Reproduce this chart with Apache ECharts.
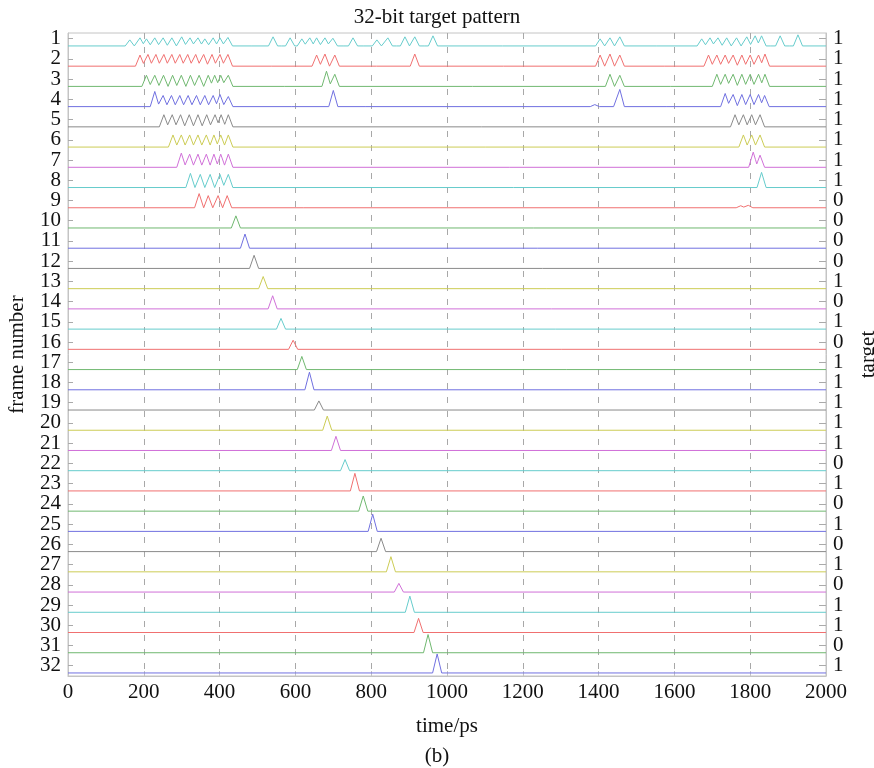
<!DOCTYPE html>
<html>
<head>
<meta charset="utf-8">
<script src="https://cdn.jsdelivr.net/npm/echarts@6/dist/echarts.min.js"></script>
<style>html,body{margin:0;padding:0;background:#fff}#c{width:874px;height:768px}</style>
</head>
<body>
<div id="c"></div>
<script>
// ---- data ----
const frameNumbers = Array.from({length: 32}, (_, i) => i + 1);
const targetBits = [1,1,1,1,1,1,1,1,0,0,0,0,1,0,1,0,1,1,1,1,1,0,1,0,1,0,1,0,1,1,0,1];
const timeTicks = [0,200,400,600,800,1000,1200,1400,1600,1800,2000];

// peaks per frame: [time (ps), height (frame units)]
const frame01 = [[163,0.3],[190,0.4],[207,0.35],[229,0.4],[251,0.4],[274,0.4],[300,0.45],[322,0.4],[343,0.4],[361,0.35],[383,0.4],[401,0.4],[422,0.42],[541,0.45],[586,0.4],[617,0.35],[638,0.4],[656,0.4],[678,0.4],[699,0.38],[752,0.4],[815,0.3],[844,0.4],[889,0.45],[915,0.45],[963,0.5],[1404,0.35],[1430,0.4],[1456,0.45],[1672,0.35],[1694,0.4],[1715,0.4],[1738,0.4],[1764,0.4],[1791,0.45],[1813,0.5],[1830,0.5],[1879,0.5],[1926,0.55]];
const frame02 = [[190,0.55],[211,0.58],[232,0.58],[253,0.58],[274,0.58],[295,0.58],[316,0.58],[337,0.58],[358,0.58],[380,0.58],[401,0.58],[422,0.58],[656,0.55],[678,0.6],[704,0.55],[915,0.6],[1404,0.55],[1430,0.6],[1456,0.55],[1690,0.55],[1712,0.55],[1734,0.55],[1755,0.55],[1778,0.55],[1800,0.55],[1822,0.55],[1839,0.6]];
const frame03 = [[207,0.55],[229,0.55],[252,0.55],[276,0.55],[299,0.55],[323,0.55],[346,0.55],[370,0.55],[387,0.55],[403,0.55],[423,0.55],[682,0.75],[704,0.6],[1430,0.6],[1456,0.55],[1712,0.6],[1734,0.6],[1755,0.6],[1778,0.6],[1800,0.6],[1822,0.6],[1839,0.6]];
const frame04 = [[229,0.75],[251,0.55],[273,0.55],[295,0.55],[317,0.55],[339,0.55],[361,0.55],[383,0.55],[401,0.6],[423,0.5],[700,0.8],[1390,0.1],[1456,0.85],[1734,0.65],[1755,0.6],[1778,0.6],[1800,0.6],[1822,0.6],[1838,0.55]];
const frame05 = [[253,0.6],[275,0.6],[297,0.6],[320,0.6],[343,0.6],[366,0.6],[388,0.6],[404,0.6],[423,0.6],[1760,0.6],[1782,0.6],[1804,0.6],[1826,0.6]];
const frame06 = [[277,0.6],[299,0.6],[321,0.6],[343,0.6],[365,0.6],[385,0.6],[403,0.6],[423,0.6],[1782,0.6],[1804,0.6],[1826,0.6]];
const frame07 = [[299,0.7],[321,0.65],[343,0.65],[365,0.65],[385,0.65],[403,0.65],[423,0.65],[1808,0.75],[1826,0.6]];
const frame08 = [[323,0.7],[349,0.65],[375,0.65],[401,0.65],[423,0.65],[1830,0.75]];
const frame09 = [[346,0.7],[370,0.6],[396,0.6],[420,0.6],[1775,0.1],[1795,0.12]];
const singlePeakTimes   = [443,467,491,515,540,562,594,617,637,662,684,707,731,757,779,804,826,852,873,902,925,950,974];
const singlePeakHeights = [0.6,0.7,0.65,0.6,0.65,0.53,0.45,0.65,0.87,0.45,0.7,0.7,0.55,0.87,0.75,0.85,0.66,0.75,0.43,0.8,0.7,0.9,0.94];

const multiFrames = [frame01,frame02,frame03,frame04,frame05,frame06,frame07,frame08,frame09];
const framePeaks = multiFrames.concat(singlePeakTimes.map((t, i) => [[t, singlePeakHeights[i]]]));
const oddFrames = frameNumbers.filter(n => n % 2 === 1);
const evenFrames = frameNumbers.filter(n => n % 2 === 0);

// ---- styles ----
const palette = ['#66cccc','#f07070','#70b870','#7070e0','#8a8a8a','#cccc55','#d070d8'];
const HALF = 12;        // half width of a peak, ps
const BASE = 0.36;      // baseline offset below the frame tick
const FONT = 'Liberation Serif';

function envelope(peaks) {
  const xs = [0, 2000];
  peaks.forEach(([t]) => { xs.push(t - HALF, t, t + HALF); });
  for (let i = 0; i + 1 < peaks.length; i++) {
    const [t1, h1] = peaks[i], [t2, h2] = peaks[i + 1];
    const a = h1 / HALF, b = h2 / HALF;
    const x = (h1 - h2 + a * t1 + b * t2) / (a + b);
    if (x > t1 && x < t2) xs.push(x);
  }
  const uniq = Array.from(new Set(xs.filter(x => x >= 0 && x <= 2000))).sort((p, q) => p - q);
  return uniq.map(x => {
    let v = 0;
    peaks.forEach(([t, h]) => { v = Math.max(v, h * (1 - Math.abs(x - t) / HALF)); });
    return [x, v];
  });
}

const series = framePeaks.map((peaks, i) => ({
  type: 'line',
  yAxisIndex: 0,
  showSymbol: false,
  silent: true,
  animation: false,
  lineStyle: { width: 1, color: palette[i % palette.length] },
  data: envelope(peaks).map(([x, v]) => [x, frameNumbers[i] + BASE - v])
}));

const axisGray = '#c4c4c4';
const nameStyle = { color: '#111', fontFamily: FONT, fontSize: 21 };
function rowAxis(side, values, withName, tickLen, formatter) {
  const ax = {
    type: 'value', inverse: true, min: 0.72, max: 32.51, position: side, offset: 0,
    axisLine: { show: withName, lineStyle: { color: axisGray } },
    axisTick: { show: true, inside: true, length: tickLen, customValues: values, lineStyle: { color: '#aaa' } },
    axisLabel: { customValues: values, color: '#111', fontFamily: FONT, fontSize: 21, margin: 7,
      showMinLabel: true, showMaxLabel: true, hideOverlap: false },
    splitLine: { show: false }
  };
  if (formatter) ax.axisLabel.formatter = formatter;
  return ax;
}
const targetFmt = v => String(targetBits[Math.round(v) - 1]);
const yAxes = [
  Object.assign(rowAxis('left', oddFrames, true, 5), { name: 'frame number', nameLocation: 'middle', nameGap: 40, nameTextStyle: nameStyle }),
  rowAxis('left', evenFrames, false, 5),
  Object.assign(rowAxis('right', oddFrames, true, 7, targetFmt), { name: 'target', nameLocation: 'middle', nameGap: 32, nameRotate: 90, nameTextStyle: nameStyle }),
  rowAxis('right', evenFrames, false, 7, targetFmt)
];

const chart = echarts.init(document.getElementById('c'), null, { renderer: 'canvas' });
chart.setOption({
  animation: false,
  grid: { left: 68, right: 48, top: 33, bottom: 92, show: true, borderColor: axisGray, borderWidth: 1,
          containLabel: false, outerBoundsMode: 'none' },
  xAxis: {
    type: 'value', min: 0, max: 2000, interval: 200,
    axisLine: { show: true, lineStyle: { color: axisGray } },
    axisTick: { show: true, inside: true, length: 5, lineStyle: { color: axisGray } },
    axisLabel: { color: '#111', fontFamily: FONT, fontSize: 21, margin: 6, showMinLabel: true, showMaxLabel: true,
      formatter: v => timeTicks.includes(v) ? String(v) : '' },
    splitLine: { show: true, lineStyle: { color: '#a8a8a8', type: [6, 8], width: 1 } },
    name: 'time/ps', nameLocation: 'middle', nameGap: 40,
    nameTextStyle: nameStyle
  },
  yAxis: yAxes,
  graphic: [
    { type: 'text', left: 'center', top: 7, style: { text: '32-bit target pattern', font: '21px "Liberation Serif"', fill: '#111' }, x: 10 },
    { type: 'text', left: 'center', top: 746, style: { text: '(b)', font: '21px "Liberation Serif"', fill: '#111' }, x: 10 }
  ],
  series: series
});
</script>
</body>
</html>
